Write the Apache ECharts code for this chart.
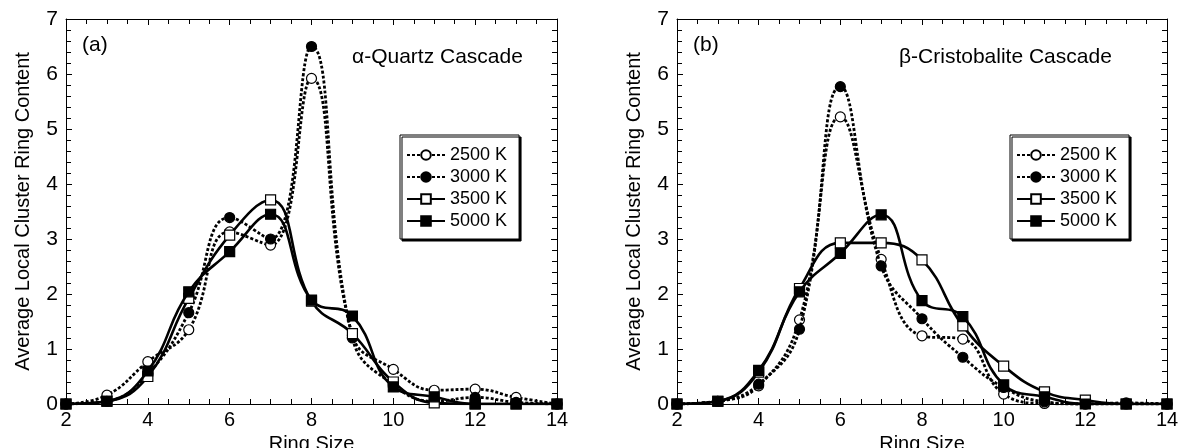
<!DOCTYPE html>
<html>
<head>
<meta charset="utf-8">
<script src="https://cdn.jsdelivr.net/npm/echarts@6/dist/echarts.min.js"></script>
<style>
html,body{margin:0;padding:0;background:#fff;}
#chart{width:1178px;height:448px;}
</style>
</head>
<body>
<div id="chart"></div>
<script>
// Ring sizes (x)
const ringSizes = [2,3,4,5,6,7,8,9,10,11,12,13,14];
const seriesNames = ['2500 K','3000 K','3500 K','5000 K'];
// (a) alpha-Quartz cascade
const quartz2500 = [0, 0.16, 0.77, 1.35, 3.13, 2.89, 5.92, 1.25, 0.63, 0.25, 0.27, 0.12, 0];
const quartz3000 = [0, 0.05, 0.55, 1.66, 3.39, 3.00, 6.50, 1.20, 0.35, 0.05, 0.12, 0.03, 0];
const quartz3500 = [0, 0.05, 0.50, 1.92, 3.07, 3.71, 1.87, 1.28, 0.40, 0.02, 0, 0, 0];
const quartz5000 = [0, 0.05, 0.60, 2.04, 2.77, 3.45, 1.89, 1.60, 0.31, 0.13, 0, 0, 0];
// (b) beta-Cristobalite cascade
const cristo2500 = [0, 0.05, 0.33, 1.53, 5.22, 2.63, 1.24, 1.18, 0.18, 0.01, 0, 0, 0];
const cristo3000 = [0, 0.05, 0.36, 1.36, 5.77, 2.51, 1.55, 0.85, 0.30, 0.04, 0, 0.02, 0];
const cristo3500 = [0, 0.05, 0.58, 2.10, 2.93, 2.93, 2.62, 1.42, 0.69, 0.22, 0.07, 0, 0];
const cristo5000 = [0, 0.05, 0.61, 2.04, 2.74, 3.44, 1.88, 1.59, 0.35, 0.13, 0, 0, 0];
const xTicks = {min: 2, max: 14, interval: 2};
const yTicks = {min: 0, max: 7, interval: 1};
const panelTitles = ['(a)', '(b)'];
const panelNames = ['\u03b1-Quartz Cascade', '\u03b2-Cristobalite Cascade'];
const xName = 'Ring Size';
const yName = 'Average Local Cluster Ring Content';

const FONT = 'Liberation Sans, Arial, Helvetica, sans-serif';
const chart = echarts.init(document.getElementById('chart'), null, {renderer: 'canvas'});

const styles = [
  {dash: [3, 2], symbol: 'circle', fill: '#fff', size: 10},
  {dash: [3, 2], symbol: 'circle', fill: '#000', size: 10},
  {dash: 'solid', symbol: 'rect', fill: '#fff', size: 10},
  {dash: 'solid', symbol: 'rect', fill: '#000', size: 10}
];

function pairs(vals){ return ringSizes.map((x,i)=>[x, vals[i]]); }

function mkSeries(dataSets, xi, yi){
  return dataSets.map((vals, k) => ({
    name: seriesNames[k],
    type: 'line',
    xAxisIndex: xi, yAxisIndex: yi,
    data: pairs(vals),
    smooth: 0.45,
    symbol: styles[k].symbol,
    symbolSize: styles[k].size,
    showAllSymbol: true,
    lineStyle: {color: '#000', width: k < 2 ? 2.8 : 2.6, type: styles[k].dash},
    itemStyle: {color: styles[k].fill, borderColor: '#000', borderWidth: 1.2},
    emphasis: {disabled: true},
    z: 2 + k
  }));
}

function xAx(grid, pos){
  const bottom = pos === 'bottom';
  return {
    type: 'value', gridIndex: grid, position: pos,
    min: xTicks.min, max: xTicks.max, interval: xTicks.interval,
    name: bottom ? xName : '', nameLocation: 'middle', nameGap: 23,
    nameTextStyle: {fontFamily: FONT, fontSize: 20, color: '#000'},
    axisLine: {show: true, onZero: false, lineStyle: {color: '#000', width: 1}},
    axisTick: {show: true, inside: true, length: 6, lineStyle: {color: '#000'}},
    minorTick: {show: true, splitNumber: 4, length: 5, lineStyle: {color: '#000'}},
    axisLabel: {show: bottom, margin: 6, fontFamily: FONT, fontSize: 20, color: '#000'},
    splitLine: {show: false}
  };
}
function yAx(grid, pos, gap){
  const left = pos === 'left';
  return {
    type: 'value', gridIndex: grid, position: pos,
    min: yTicks.min, max: yTicks.max, interval: yTicks.interval,
    name: left ? yName : '', nameLocation: 'middle', nameGap: gap,
    nameTextStyle: {fontFamily: FONT, fontSize: 20, color: '#000'},
    axisLine: {show: true, onZero: false, lineStyle: {color: '#000', width: 1}},
    axisTick: {show: true, inside: true, length: 6, lineStyle: {color: '#000'}},
    minorTick: {show: true, splitNumber: 5, length: 5, lineStyle: {color: '#000'}},
    axisLabel: {show: left, margin: 8, fontFamily: FONT, fontSize: 21, color: '#000'},
    splitLine: {show: false}
  };
}
function legendAt(left){
  return {
    show: true, orient: 'vertical', left: left, top: 135,
    data: seriesNames,
    itemWidth: 38, itemHeight: 12, itemGap: 4,
    padding: [11, 12, 9, 6],
    backgroundColor: '#fff', borderColor: '#000', borderWidth: 1,
    shadowColor: '#000', shadowBlur: 0, shadowOffsetX: 2, shadowOffsetY: 2,
    textStyle: {fontFamily: FONT, fontSize: 18, color: '#000', lineHeight: 16},
    selectedMode: false
  };
}

const option = {
  backgroundColor: '#fff',
  animation: false,
  grid: [
    {left: 66, top: 19, width: 491, height: 385, outerBoundsMode: 'none', containLabel: false},
    {left: 677, top: 19, width: 490, height: 385, outerBoundsMode: 'none', containLabel: false}
  ],
  xAxis: [xAx(0,'bottom'), xAx(0,'top'), xAx(1,'bottom'), xAx(1,'top')],
  yAxis: [yAx(0,'left',33), yAx(0,'right',0), yAx(1,'left',33), yAx(1,'right',0)],
  legend: [legendAt(400), legendAt(1010)],
  series: [].concat(
    mkSeries([quartz2500, quartz3000, quartz3500, quartz5000], 0, 0),
    mkSeries([cristo2500, cristo3000, cristo3500, cristo5000], 2, 2)
  ),
  graphic: [
    {type: 'text', left: 82, top: 35, style: {text: panelTitles[0], font: '21px ' + FONT, fill: '#000'}},
    {type: 'text', left: 352, top: 47, style: {text: panelNames[0], font: '21px ' + FONT, fill: '#000'}},
    {type: 'text', left: 693, top: 35, style: {text: panelTitles[1], font: '21px ' + FONT, fill: '#000'}},
    {type: 'text', left: 899, top: 47, style: {text: panelNames[1], font: '21px ' + FONT, fill: '#000'}}
  ]
};
chart.setOption(option);
</script>
</body>
</html>
